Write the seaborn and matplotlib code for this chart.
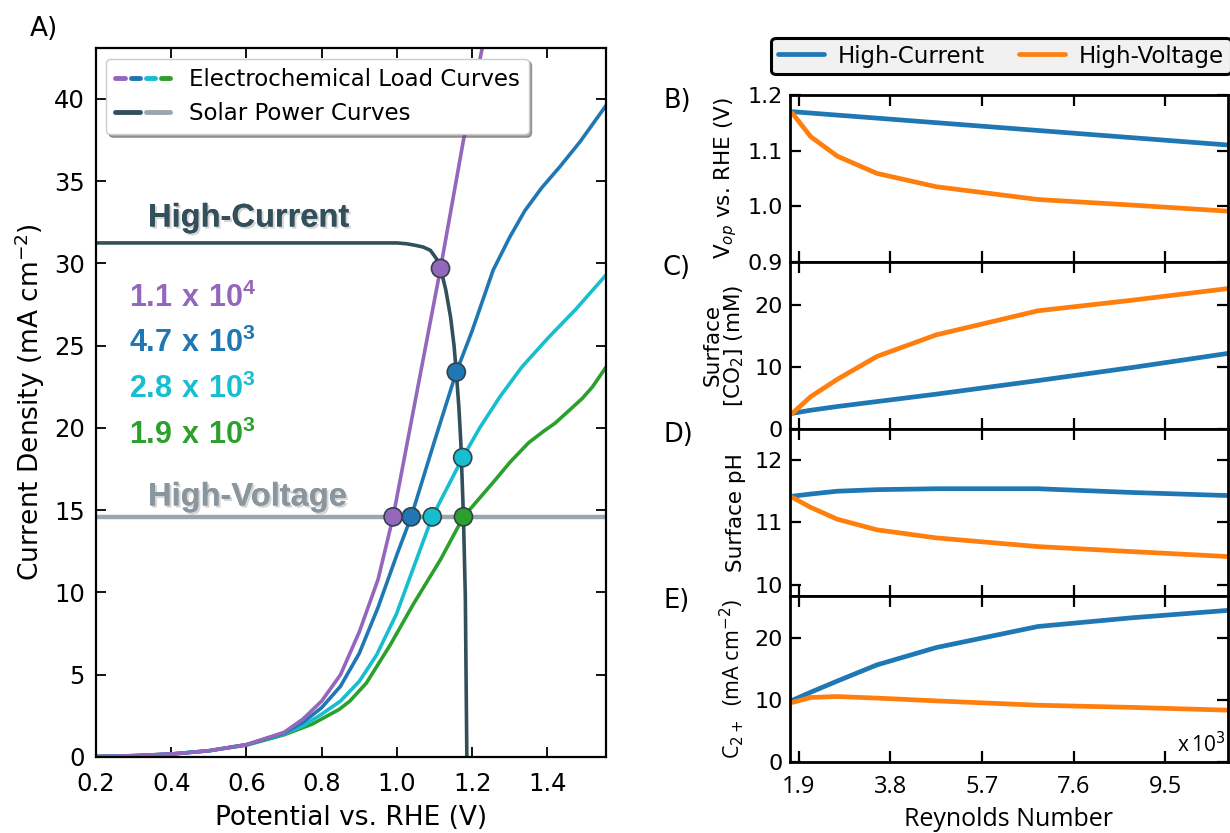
import numpy as np
import pandas as pd
import matplotlib
matplotlib.use("Agg")
import matplotlib.pyplot as plt
import seaborn as sns
from matplotlib.lines import Line2D
from matplotlib.legend_handler import HandlerTuple
import matplotlib.patheffects as pe

# ---------------- Panel A data ----------------
purple_V = [0.2, 0.3, 0.4, 0.5, 0.6, 0.7, 0.75, 0.8, 0.85, 0.9, 0.95, 0.99, 1.05, 1.116, 1.177, 1.235]
purple_J = [0.03, 0.08, 0.18, 0.38, 0.75, 1.5, 2.3, 3.4, 5.0, 7.6, 10.8, 14.6, 21.8, 29.7, 37.5, 44.0]

blue_V = [0.2, 0.3, 0.4, 0.5, 0.6, 0.7, 0.75, 0.8, 0.85, 0.9, 0.95, 1.0, 1.038, 1.1, 1.158, 1.2, 1.256, 1.3, 1.34, 1.385, 1.434, 1.487, 1.556]
blue_J = [0.03, 0.08, 0.18, 0.38, 0.75, 1.45, 2.1, 3.0, 4.3, 6.3, 9.1, 12.3, 14.6, 19.2, 23.4, 25.9, 29.6, 31.6, 33.2, 34.6, 35.9, 37.4, 39.6]

cyan_V = [0.2, 0.3, 0.4, 0.5, 0.6, 0.7, 0.75, 0.8, 0.85, 0.9, 0.946, 0.999, 1.044, 1.094, 1.175, 1.22, 1.274, 1.332, 1.403, 1.475, 1.556]
cyan_J = [0.03, 0.08, 0.18, 0.38, 0.75, 1.4, 1.9, 2.6, 3.4, 4.6, 6.2, 8.7, 11.5, 14.6, 18.2, 20.0, 21.9, 23.7, 25.5, 27.2, 29.3]

green_V = [0.2, 0.3, 0.4, 0.5, 0.6, 0.7, 0.775, 0.847, 0.875, 0.919, 0.982, 1.044, 1.116, 1.177, 1.26, 1.3, 1.35, 1.39, 1.421, 1.45, 1.493, 1.52, 1.556]
green_J = [0.03, 0.08, 0.18, 0.38, 0.72, 1.35, 2.0, 2.9, 3.4, 4.5, 6.8, 9.3, 12.0, 14.6, 16.8, 17.9, 19.1, 19.8, 20.3, 20.9, 21.8, 22.5, 23.7]

hc_V = [0.2, 0.9, 1.0, 1.026, 1.05, 1.07, 1.089, 1.105, 1.116, 1.13, 1.143, 1.152, 1.158, 1.165, 1.170, 1.177, 1.182, 1.184, 1.186]
hc_J = [31.25, 31.25, 31.25, 31.2, 31.1, 31.0, 30.8, 30.3, 29.7, 28.4, 26.7, 25.0, 23.4, 21.2, 19.1, 14.6, 9.7, 4.8, 0.0]

hv_V = [0.2, 1.556]
hv_J = [14.6, 14.6]

# operating points
op_V = [1.116, 0.99, 1.158, 1.038, 1.175, 1.094, 1.177]
op_J = [29.7, 14.6, 23.4, 14.6, 18.2, 14.6, 14.6]
op_series = ["p", "p", "b", "b", "c", "c", "g"]

re_labels = ["1.1 x 10^{4}", "4.7 x 10^{3}", "2.8 x 10^{3}", "1.9 x 10^{3}"]

# ---------------- Panels B-E data ----------------
reynolds = [1.77, 2.15, 2.70, 3.52, 4.75, 6.86, 8.8, 10.8]
vop_hc = [1.170, 1.1675, 1.1638, 1.1584, 1.1502, 1.1362, 1.1233, 1.110]
vop_hv = [1.167, 1.125, 1.090, 1.059, 1.035, 1.012, 1.002, 0.991]
co2_hc = [2.5, 3.0, 3.6, 4.4, 5.6, 7.8, 9.9, 12.2]
co2_hv = [2.5, 5.2, 8.0, 11.7, 15.2, 19.1, 20.8, 22.7]
ph_hc = [11.42, 11.455, 11.50, 11.525, 11.54, 11.54, 11.48, 11.43]
ph_hv = [11.40, 11.24, 11.05, 10.88, 10.75, 10.61, 10.53, 10.45]
c2_hc = [10.0, 11.3, 13.1, 15.7, 18.5, 21.9, 23.3, 24.5]
c2_hv = [9.65, 10.45, 10.6, 10.35, 9.9, 9.2, 8.85, 8.4]
re_ticks = [1.9, 3.8, 5.7, 7.6, 9.5]

# ---------------- Style ----------------
sns.set_theme(style="ticks")
plt.rcParams["font.family"] = ["DejaVu Sans"]
plt.rcParams["mathtext.fontset"] = "custom"
plt.rcParams["mathtext.rm"] = "DejaVu Sans"
plt.rcParams["mathtext.it"] = "DejaVu Sans:italic"
plt.rcParams["mathtext.bf"] = "Liberation Sans:bold"
for k in ["text.color", "axes.labelcolor", "xtick.color", "ytick.color", "axes.edgecolor"]:
    plt.rcParams[k] = "black"

C_P, C_B, C_C, C_G = "#9467bd", "#1f77b4", "#17becf", "#2ca02c"
C_HC, C_HV = "#32505b", "#9aa6ae"
C_BLUE, C_ORANGE = "#1f77b4", "#ff7f0e"

W, H = 1230, 833
fig = plt.figure(figsize=(W / 100, H / 100), dpi=100)

def fx(px):
    return px / W

def fy(py):
    return 1 - py / H

# ---------------- Panel A ----------------
axA = fig.add_axes([fx(96), fy(757), fx(606) - fx(96), fy(48) - fy(757)])
lw = 2.6
sns.lineplot(x=hv_V, y=hv_J, ax=axA, color=C_HV, lw=lw + 0.6, sort=False, estimator=None)
for V, J, c in [(green_V, green_J, C_G), (cyan_V, cyan_J, C_C), (blue_V, blue_J, C_B), (purple_V, purple_J, C_P)]:
    sns.lineplot(x=V, y=J, ax=axA, color=c, lw=lw, sort=False, estimator=None)
sns.lineplot(x=hc_V, y=hc_J, ax=axA, color=C_HC, lw=lw, sort=False, estimator=None)

cmap = {"p": C_P, "b": C_B, "c": C_C, "g": C_G}
df_op = pd.DataFrame({"V": op_V, "J": op_J, "s": op_series})
sns.scatterplot(data=df_op, x="V", y="J", hue="s", palette=cmap, ax=axA, s=170,
                edgecolor="#33424a", linewidth=1.2, legend=False, zorder=5)

axA.set_xlim(0.2, 1.556)
axA.set_ylim(0, 43.1)
axA.set_xticks([0.2, 0.4, 0.6, 0.8, 1.0, 1.2, 1.4])
axA.set_yticks([0, 5, 10, 15, 20, 25, 30, 35, 40])
axA.tick_params(direction="in", top=True, right=True, length=7, width=1.3, labelsize=17.5)
axA.tick_params(axis="x", pad=11)
axA.tick_params(axis="y", pad=8)
for sp in axA.spines.values():
    sp.set_linewidth(1.6)
    sp.set_color("black")
axA.set_xlabel("Potential vs. RHE (V)", fontsize=19, labelpad=6)
axA.set_ylabel("Current Density (mA cm$^{-2}$)", fontsize=19, labelpad=5)

shadow = [pe.withSimplePatchShadow(offset=(1.5, -1.5), shadow_rgbFace="#888888", alpha=0.35), pe.Normal()]
fig.text(fx(148), fy(218), "High-Current", fontsize=23.5, fontweight="bold", color=C_HC,
         family="Liberation Sans", va="center", ha="left", path_effects=shadow)
fig.text(fx(148), fy(497), "High-Voltage", fontsize=23.5, fontweight="bold", color="#8a969e",
         family="Liberation Sans", va="center", ha="left", path_effects=shadow)
for i, (lab, c) in enumerate(zip(re_labels, [C_P, C_B, C_C, C_G])):
    fig.text(fx(129), fy(297 + i * 45.7), r"$\mathbf{" + lab.replace(" ", r"\ ") + "}$",
             fontsize=22, color=c, va="center", ha="left")

hA1 = tuple(Line2D([], [], color=c, lw=3.5) for c in [C_P, C_B, C_C, C_G])
hA2 = (Line2D([], [], color=C_HC, lw=3.5), Line2D([], [], color=C_HV, lw=3.5))
legA = axA.legend([hA1, hA2], ["Electrochemical Load Curves", "Solar Power Curves"],
                  handler_map={tuple: HandlerTuple(ndivide=None, pad=0.25)},
                  loc="upper left", bbox_to_anchor=(0.02, 0.985), borderaxespad=0,
                  fontsize=16.5, handlelength=2.4, fancybox=True, shadow=True, framealpha=1,
                  edgecolor="#cccccc", borderpad=0.4, labelspacing=0.5, handletextpad=0.8)
legA.get_frame().set_linewidth(1.0)

fig.text(fx(30), fy(29), "A)", fontsize=19, va="center", ha="left")

# ---------------- Panels B-E ----------------
left, right = 790, 1228
tops = [95, 262, 429, 595.5]
hgt = 166.75
right_data = [
    (vop_hc, vop_hv, (0.9, 1.2), [0.9, 1.0, 1.1, 1.2], "V$_{op}$ vs. RHE (V)", "B)"),
    (co2_hc, co2_hv, (0, 27), [0, 10, 20], "Surface\n[CO$_2$] (mM)", "C)"),
    (ph_hc, ph_hv, (9.82, 12.5), [10, 11, 12], "Surface pH", "D)"),
    (c2_hc, c2_hv, (0, 26.9), [0, 10, 20], "C$_{2+}$  (mA cm$^{-2}$)", "E)"),
]
axes_r = []
for k, (hc, hv, yl, yt, ylab, plab) in enumerate(right_data):
    t = tops[k]
    ax = fig.add_axes([fx(left), fy(t + hgt), fx(right) - fx(left), hgt / H])
    sns.lineplot(x=reynolds, y=hc, ax=ax, color=C_BLUE, lw=3.4, estimator=None, legend=False)
    sns.lineplot(x=reynolds, y=hv, ax=ax, color=C_ORANGE, lw=3.4, estimator=None, legend=False)
    ax.set_xlim(1.72, 10.8)
    ax.set_ylim(*yl)
    ax.set_yticks(yt)
    ax.set_xticks(re_ticks)
    ax.tick_params(direction="in", top=True, right=True, length=8, width=1.6, labelsize=16, pad=5)
    ax.tick_params(axis="x", pad=9)
    for sp in ax.spines.values():
        sp.set_linewidth(2.0)
        sp.set_color("black")
    ax.set_xlabel("")
    if k < 3:
        ax.set_xticklabels([])
    else:
        ax.set_xticklabels([f"{v:.1f}" for v in re_ticks], family="Open Sans", fontsize=17)
        ax.set_xlabel("Reynolds Number", family="Open Sans", fontsize=18, labelpad=6)
    if k == 3:
        ax.set_ylabel(ylab, fontsize=15.5, labelpad=6, family="Open Sans")
    else:
        ax.set_ylabel(ylab, fontsize=15.5, labelpad=6, linespacing=1.0)
    fig.text(fx(663), fy(t + 6), plab, fontsize=18.5, va="center", ha="left")
    axes_r.append(ax)

axE = axes_r[-1]
axE.text(0.995, 0.03, r"x$\,$10$^3$", transform=axE.transAxes, ha="right", va="bottom",
         fontsize=15, family="Open Sans")

hR = [Line2D([], [], color=C_BLUE, lw=3.4), Line2D([], [], color=C_ORANGE, lw=3.4)]
legR = fig.legend(hR, ["High-Current", "High-Voltage"], ncol=2, loc="center",
                  bbox_to_anchor=(fx(1001), fy(56)), fontsize=16.5, fancybox=True,
                  framealpha=1, facecolor="#f1f1f1", edgecolor="black", handlelength=2.0,
                  columnspacing=1.5, borderpad=0.3, handletextpad=0.6)
legR.get_frame().set_linewidth(2.2)

fig.savefig("out.png", dpi=100)
